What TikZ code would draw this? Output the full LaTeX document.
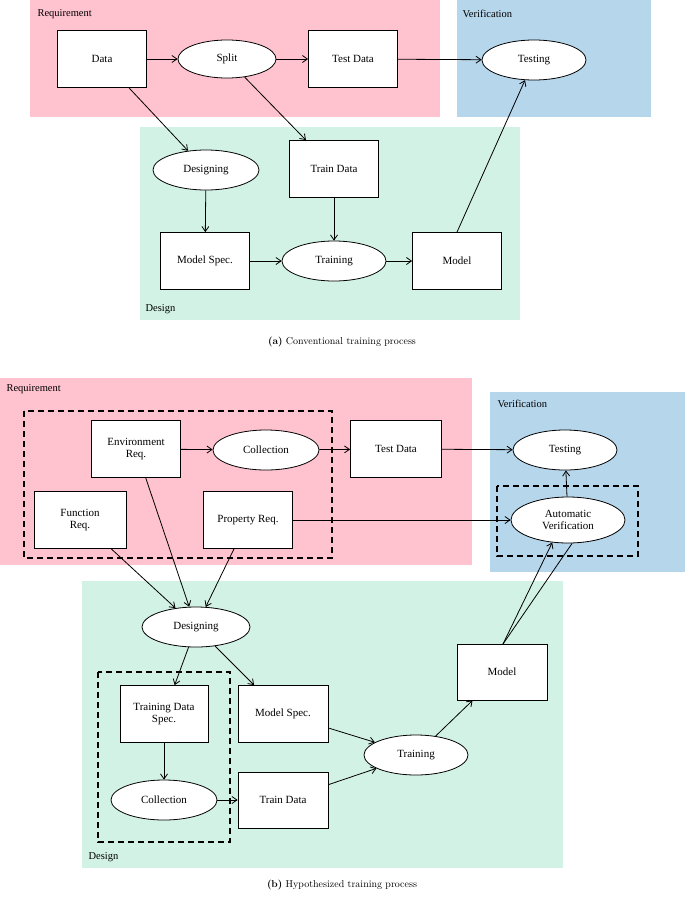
\documentclass[tikz,border=0pt]{standalone}
\usepackage{fontspec}
\newfontfamily\tms{Liberation Serif}
\usetikzlibrary{shapes.geometric,arrows.meta}
\definecolor{reqc}{HTML}{FFC2CF}
\definecolor{verc}{HTML}{B6D6EC}
\definecolor{desc}{HTML}{D3F2E6}
\begin{document}
\begin{tikzpicture}[x=1pt,y=-1pt,
  box/.style={draw,thick,fill=white,minimum width=89pt,minimum height=57pt,align=center,font=\tms\fontsize{11}{12}\selectfont},
  ell/.style={draw,thick,fill=white,ellipse,inner sep=0pt,minimum width=104pt,minimum height=40pt,align=center,font=\tms\fontsize{11}{12}\selectfont},
  arr/.style={thick,-{Straight Barb[length=5pt,width=7pt]}},
  lab/.style={anchor=west,font=\tms\fontsize{10.5}{12}\selectfont},
  dashbox/.style={draw,line width=1.6pt,dash pattern=on 6pt off 4pt}]
\useasboundingbox (0,0) rectangle (685,902);
% (a)
\fill[reqc] (30,0) rectangle (440,117);
\fill[verc] (457,0) rectangle (651,117);
\fill[desc] (140,127) rectangle (520,320);
\node[lab] (lr1) at (34,14) {Requirement};
\node[lab] (lv1) at (459,14) {Verification};
\node[lab] (ld1) at (142,309) {Design};
\node[box] (data) at (102,59) {Data};
\node[ell,minimum width=98pt,minimum height=38pt] (split) at (227,59) {Split};
\node[box] (test) at (353,59) {Test Data};
\node[ell] (testing) at (534,60) {Testing};
\node[ell,minimum width=106pt] (designing) at (206,170) {Designing};
\node[box] (train) at (334,169) {Train Data};
\node[box] (mspec) at (205,261) {Model Spec.};
\node[ell] (training) at (334,261) {Training};
\node[box] (model) at (457,261) {Model};
\draw[arr] (data) -- (split);
\draw[arr] (split) -- (test);
\draw[arr] (test) -- (testing);
\draw[arr] (data) -- (designing);
\draw[arr] (split) -- (train);
\draw[arr] (designing) -- (mspec);
\draw[arr] (train) -- (training);
\draw[arr] (mspec) -- (training);
\draw[arr] (training) -- (model);
\draw[arr] (model.north) -- (testing);
\node (capa) at (342,342) {\textbf{(a)} Conventional training process};
% (b)
\fill[reqc] (0,378) rectangle (472,565);
\fill[verc] (490,392) rectangle (685,572);
\fill[desc] (82,581) rectangle (563,868);
\node[lab] (lr2) at (3,389) {Requirement};
\node[lab] (lv2) at (494,404) {Verification};
\node[lab] (ld2) at (85,857) {Design};
\draw[dashbox] (24,411) rectangle (332,558);
\draw[dashbox] (497,486) rectangle (638,556);
\draw[dashbox] (98,672) rectangle (230,842);
\node[box] (env) at (136,449) {Environment\\Req.};
\node[ell,minimum width=106pt] (coll) at (266,450) {Collection};
\node[box,minimum width=91pt] (test2) at (396,449) {Test Data};
\node[ell] (testing2) at (565,450) {Testing};
\node[box,minimum width=92pt] (func) at (80,520) {Function\\Req.};
\node[box] (prop) at (248,520) {Property Req.};
\node[ell,minimum width=114pt,minimum height=46pt] (auto) at (568,520) {Automatic\\Verification};
\node[ell,minimum width=108pt] (design2) at (196,627) {Designing};
\node[box,minimum width=90pt,minimum height=56pt] (model2) at (502,672) {Model};
\node[box,minimum width=88pt] (tds) at (164,714) {Training Data\\Spec.};
\node[box,minimum width=90pt] (mspec2) at (283,714) {Model Spec.};
\node[ell] (training2) at (416,755) {Training};
\node[ell,minimum width=106pt] (coll2) at (164,800) {Collection};
\node[box,minimum width=90pt,minimum height=56pt] (train2) at (283,800) {Train Data};
\draw[arr] (env) -- (coll);
\draw[arr] (coll) -- (test2);
\draw[arr] (test2) -- (testing2);
\draw[arr] (func) -- (design2);
\draw[arr] (env) -- (design2);
\draw[arr] (prop) -- (design2);
\draw[arr] (prop) -- (auto);
\draw[arr] (auto) -- (testing2);
\draw[arr] (design2) -- (tds);
\draw[arr] (design2) -- (mspec2);
\draw[arr] (tds) -- (coll2);
\draw[arr] (coll2) -- (train2);
\draw[arr] (mspec2) -- (training2);
\draw[arr] (train2) -- (training2);
\draw[arr] (training2) -- (model2);
\coordinate (mt) at (503,644);
\draw[arr] (mt) -- (auto.-125);
\draw[thick] (mt) -- (auto.-80);
\node (capb) at (342,885) {\textbf{(b)} Hypothesized training process};
\end{tikzpicture}
\end{document}
